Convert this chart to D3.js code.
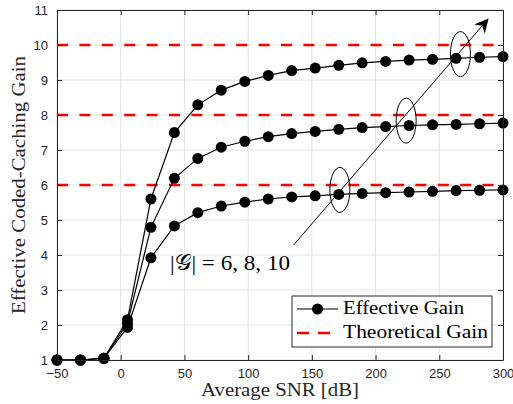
<!DOCTYPE html>
<html>
<head>
<meta charset="utf-8">
<script src="https://cdn.jsdelivr.net/npm/d3@7"></script>
<style>
  body { margin: 0; background: #fff; }
  svg { display: block; }
</style>
</head>
<body>
<div id="chart"></div>
<script>
// SNR values (dB), 20 points from -50 to 300
var snr = [-50, -31.6, -13.2, 5.3, 23.7, 42.1, 60.5, 78.9, 97.4, 115.8,
           134.2, 152.6, 171.1, 189.5, 207.9, 226.3, 244.7, 263.2, 281.6, 300];

var gain6  = [1, 1, 1.05, 1.93, 3.92, 4.83, 5.21, 5.40, 5.51, 5.60,
              5.66, 5.69, 5.73, 5.76, 5.78, 5.80, 5.82, 5.84, 5.85, 5.86];
var gain8  = [1, 1, 1.05, 2.05, 4.79, 6.19, 6.76, 7.08, 7.25, 7.38,
              7.47, 7.53, 7.59, 7.64, 7.67, 7.70, 7.72, 7.73, 7.75, 7.77];
var gain10 = [1, 1, 1.05, 2.15, 5.60, 7.50, 8.29, 8.71, 8.96, 9.13,
              9.27, 9.34, 9.42, 9.49, 9.53, 9.57, 9.59, 9.62, 9.65, 9.67];

var theoretical = [6, 8, 10];

var xTicks = [-50, 0, 50, 100, 150, 200, 250, 300];
var yTicks = [1, 2, 3, 4, 5, 6, 7, 8, 9, 10, 11];

// annotation ellipses (SNR, gain) and arrow ends
var marks = [[172, 5.86], [224, 7.84], [266.6, 9.74]];
var arrowFrom = [135.8, 4.29], arrowTo = [288, 10.73];

var width = 513, height = 404;
var margin = { left: 57, top: 10, right: 10, bottom: 44 };
var innerWidth = width - margin.left - margin.right;
var innerHeight = height - margin.top - margin.bottom;

var svg = d3.select("#chart").append("svg")
    .attr("width", width)
    .attr("height", height);

var g = svg.append("g")
    .attr("transform", "translate(" + margin.left + "," + margin.top + ")");

var x = d3.scaleLinear().domain([-50, 300]).range([0, innerWidth]);
var y = d3.scaleLinear().domain([1, 11]).range([innerHeight, 0]);

var axisColor = "#262626";
var tickFont = "Liberation Sans, Arial, sans-serif";
var serif = "Liberation Serif, Times New Roman, serif";

// grid
g.append("g").selectAll("line").data(xTicks).enter().append("line")
    .attr("x1", function(d) { return x(d); }).attr("x2", function(d) { return x(d); })
    .attr("y1", 0).attr("y2", innerHeight)
    .attr("stroke", "#e3e3e3").attr("stroke-width", 1);
g.append("g").selectAll("line").data(yTicks).enter().append("line")
    .attr("y1", function(d) { return y(d); }).attr("y2", function(d) { return y(d); })
    .attr("x1", 0).attr("x2", innerWidth)
    .attr("stroke", "#e3e3e3").attr("stroke-width", 1);

// theoretical gain (red dashed)
g.append("g").selectAll("line").data(theoretical).enter().append("line")
    .attr("x1", x(-50)).attr("x2", x(300))
    .attr("y1", function(d) { return y(d); }).attr("y2", function(d) { return y(d); })
    .attr("stroke", "#ff0000").attr("stroke-width", 2.6)
    .attr("stroke-dasharray", "11,11.4");

// effective gain curves
var line = d3.line()
    .x(function(d) { return x(d[0]); })
    .y(function(d) { return y(d[1]); });

[gain6, gain8, gain10].forEach(function(series) {
    var pts = snr.map(function(s, i) { return [s, series[i]]; });
    g.append("path")
        .datum(pts)
        .attr("d", line)
        .attr("fill", "none")
        .attr("stroke", "#000")
        .attr("stroke-width", 1.2);
    g.append("g").selectAll("circle").data(pts).enter().append("circle")
        .attr("cx", function(d) { return x(d[0]); })
        .attr("cy", function(d) { return y(d[1]); })
        .attr("r", 5.5)
        .attr("fill", "#000");
});

// axes (box with inward ticks)
var xAxisB = d3.axisBottom(x).tickValues(xTicks).tickSizeInner(-5).tickSizeOuter(0).tickPadding(9);
var xAxisT = d3.axisTop(x).tickValues(xTicks).tickSizeInner(-5).tickSizeOuter(0);
var yAxisL = d3.axisLeft(y).tickValues(yTicks).tickSizeInner(-5).tickSizeOuter(0).tickPadding(9);
var yAxisR = d3.axisRight(y).tickValues(yTicks).tickSizeInner(-5).tickSizeOuter(0);

function styleAxis(sel) {
    sel.selectAll("path").attr("stroke", axisColor).attr("stroke-width", 1);
    sel.selectAll("line").attr("stroke", axisColor);
    sel.selectAll("text").attr("fill", axisColor)
        .style("font-family", tickFont).style("font-size", "13px");
}

g.append("g").attr("transform", "translate(0," + innerHeight + ")").call(xAxisB).call(styleAxis);
g.append("g").call(xAxisT).call(styleAxis).selectAll("text").remove();
g.append("g").call(yAxisL).call(styleAxis);
g.append("g").attr("transform", "translate(" + innerWidth + ",0)").call(yAxisR).call(styleAxis)
    .selectAll("text").remove();

// axis labels
svg.append("text")
    .attr("x", margin.left + innerWidth / 2)
    .attr("y", 396)
    .attr("text-anchor", "middle")
    .attr("textLength", 158).attr("lengthAdjust", "spacingAndGlyphs")
    .style("font-family", serif).style("font-size", "19px")
    .attr("fill", axisColor)
    .text("Average SNR [dB]");

svg.append("text")
    .attr("transform", "translate(25," + (margin.top + innerHeight / 2) + ") rotate(-90)")
    .attr("text-anchor", "middle")
    .attr("textLength", 258).attr("lengthAdjust", "spacingAndGlyphs")
    .style("font-family", serif).style("font-size", "19px")
    .attr("fill", axisColor)
    .text("Effective Coded-Caching Gain");

// annotation: ellipses, arrow and label
var ann = g.append("g");
ann.selectAll("ellipse").data(marks).enter().append("ellipse")
    .attr("cx", function(d) { return x(d[0]); })
    .attr("cy", function(d) { return y(d[1]); })
    .attr("rx", 10).attr("ry", 22.5)
    .attr("fill", "none").attr("stroke", "#000").attr("stroke-width", 1);

svg.append("defs").append("marker")
    .attr("id", "arrow")
    .attr("viewBox", "0 0 10 10")
    .attr("refX", 9).attr("refY", 5)
    .attr("markerWidth", 14).attr("markerHeight", 14)
    .attr("markerUnits", "userSpaceOnUse")
    .attr("orient", "auto")
    .append("path")
    .attr("d", "M0,0 L10,5 L0,10 L3,5 Z")
    .attr("fill", "#000");

ann.append("line")
    .attr("x1", x(arrowFrom[0])).attr("y1", y(arrowFrom[1]))
    .attr("x2", x(arrowTo[0])).attr("y2", y(arrowTo[1]))
    .attr("stroke", "#000").attr("stroke-width", 1)
    .attr("marker-end", "url(#arrow)");

var lab = svg.append("text")
    .attr("x", 170).attr("y", 270)
    .attr("textLength", 120).attr("lengthAdjust", "spacingAndGlyphs")
    .style("font-family", serif).style("font-size", "22px")
    .attr("fill", "#000");
lab.append("tspan").text("|");
lab.append("tspan").style("font-family", "DejaVu Sans, Noto Sans, serif").text("\uD835\uDCA2");
lab.append("tspan").text("| = 6, 8, 10");

// legend
var leg = svg.append("g").attr("transform", "translate(292,296)");
leg.append("rect")
    .attr("width", 200).attr("height", 51)
    .attr("fill", "#fff").attr("stroke", axisColor).attr("stroke-width", 1);
leg.append("line").attr("x1", 5).attr("x2", 46).attr("y1", 13).attr("y2", 13)
    .attr("stroke", "#000").attr("stroke-width", 1.2);
leg.append("circle").attr("cx", 25.5).attr("cy", 13).attr("r", 5.5).attr("fill", "#000");
leg.append("line").attr("x1", 5).attr("x2", 38).attr("y1", 37).attr("y2", 37)
    .attr("stroke", "#ff0000").attr("stroke-width", 2.6).attr("stroke-dasharray", "12,9");
var legText = ["Effective Gain", "Theoretical Gain"];
var legLen = [121, 145];
leg.selectAll("text").data(legText).enter().append("text")
    .attr("x", 51)
    .attr("y", function(d, i) { return 18 + i * 24; })
    .attr("textLength", function(d, i) { return legLen[i]; })
    .attr("lengthAdjust", "spacingAndGlyphs")
    .style("font-family", serif).style("font-size", "19px")
    .attr("fill", "#000")
    .text(function(d) { return d; });
</script>
</body>
</html>
